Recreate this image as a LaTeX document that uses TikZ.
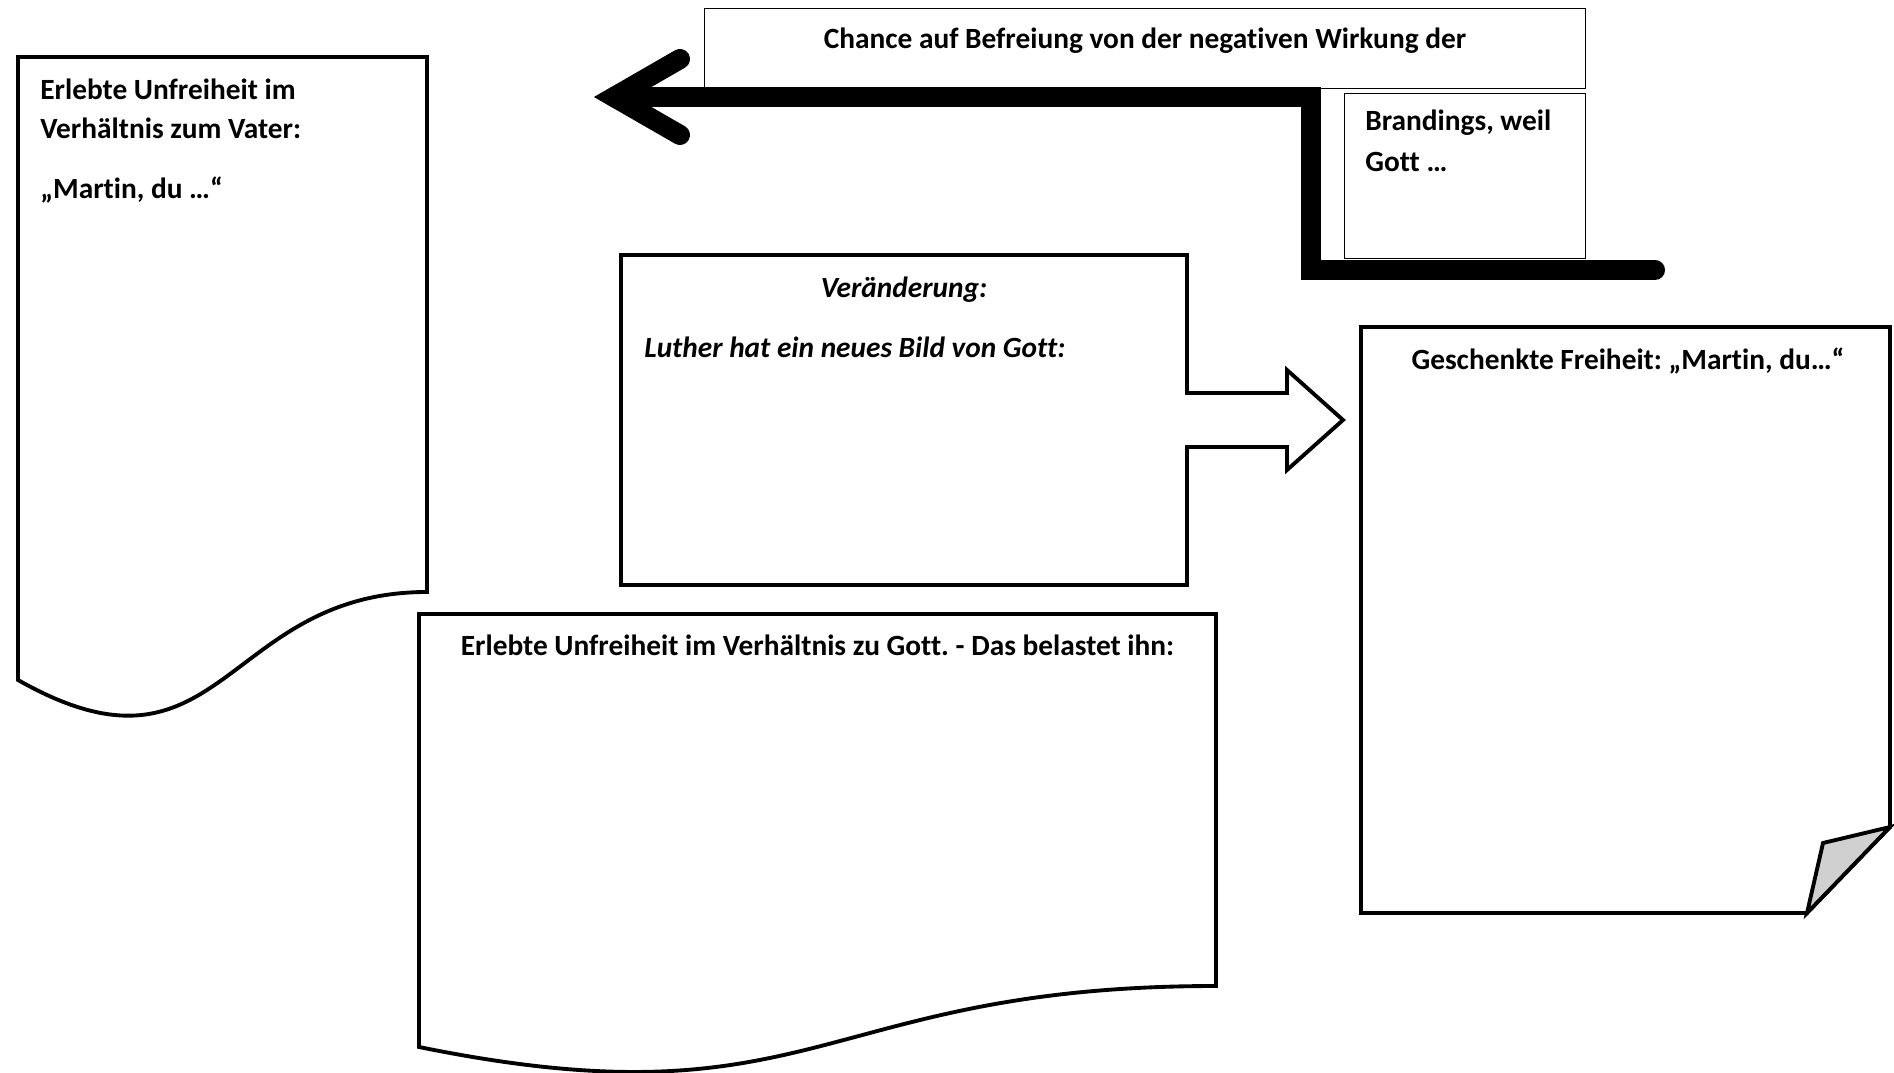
\documentclass[tikz,border=0pt]{standalone}
\usepackage{fontspec}
\setmainfont{Carlito}[Ligatures=CommonOff]
\frenchspacing
\usepackage{tikz}
\usetikzlibrary{positioning}
\definecolor{flapgray}{HTML}{D0D0D0}
\tikzset{
  thinbox/.style={draw=black,line width=0.6pt,fill=white,inner sep=0pt},
  thickline/.style={draw=black,line width=2.2pt,line join=miter,fill=white},
  bigarr/.style={draw=black,line width=11.4pt,line cap=round,line join=miter},
  lbl/.style={font=\bfseries\fontsize{16.7}{22}\selectfont,inner sep=0pt},
  lblit/.style={font=\bfseries\itshape\fontsize{16.7}{22}\selectfont,inner sep=0pt}
}

\begin{document}
\begin{tikzpicture}
  \useasboundingbox (0,0) rectangle (37.88,-21.46);
  % top boxes
  \node[thinbox,minimum width=17.62cm,minimum height=1.60cm,anchor=north west] (chance) at (14.08,-0.16) {};
  \node[thinbox,minimum width=4.82cm,minimum height=3.30cm,anchor=north west] (brand) at (26.88,-1.86) {};
  \node[lbl,anchor=base] (chancetxt) at (22.90,-0.97) {Chance auf Befreiung von der negativen Wirkung der};
  \node[lbl,anchor=base west,text width=4.2cm,align=flush left,font=\bfseries\fontsize{16.7}{22.8}\selectfont] (brandtxt) at (27.30,-2.62) {Brandings, weil\\Gott …};
  % bent arrow
  \coordinate (tip) at (12.28,-1.94);
  \coordinate (armup) at (13.60,-1.18);
  \coordinate (armdown) at (13.60,-2.70);
  \coordinate (bend) at (26.22,-1.94);
  \coordinate (knee) at (26.22,-5.40);
  \coordinate (tail) at (33.10,-5.40);
  \draw[bigarr] (tail) -- (knee) -- (bend) -- (tip);
  \draw[bigarr] (armup) -- (tip) -- (armdown);
  % father document
  \draw[thickline] (0.36,-1.14) -- (8.54,-1.14) -- (8.54,-11.84)
    .. controls (4.45,-11.84) and (4.45,-15.92) .. (0.36,-13.60) -- cycle;
  \node[lbl,anchor=base west,text width=7.6cm,align=flush left,font=\bfseries\fontsize{16.7}{22}\selectfont] (vater) at (0.80,-2.00)
    {Erlebte Unfreiheit im\\Verhältnis zum Vater:\\[12.3pt]„Martin, du …“};
  % change box with arrow
  \draw[thickline] (12.42,-5.10) -- (23.74,-5.10) -- (23.74,-7.86) -- (25.74,-7.86) -- (25.74,-7.40)
    -- (26.86,-8.40) -- (25.74,-9.40) -- (25.74,-8.94) -- (23.74,-8.94) -- (23.74,-11.70)
    -- (12.42,-11.70) -- cycle;
  \node[lblit,anchor=base] (wechsel) at (18.08,-5.96) {Veränderung:};
  \node[lblit,anchor=base west] (bild) at (12.88,-7.15) {Luther hat ein neues Bild von Gott:};
  % gift page
  \draw[thickline] (27.22,-6.54) -- (37.80,-6.54) -- (37.80,-16.54) -- (36.14,-18.26) -- (27.22,-18.26) -- cycle;
  \draw[thickline,fill=flapgray] (36.14,-18.26) -- (36.46,-16.86) -- (37.80,-16.54) -- cycle;
  \node[lbl,anchor=base] (frei) at (32.56,-7.39) {Geschenkte Freiheit: „Martin, du…“};
  % god document
  \draw[thickline] (8.38,-12.28) -- (24.32,-12.28) -- (24.32,-19.72)
    .. controls (16.35,-19.72) and (16.35,-22.56) .. (8.38,-20.94) -- cycle;
  \node[lbl,anchor=base] (gott) at (16.35,-13.10) {Erlebte Unfreiheit im Verhältnis zu Gott. - Das belastet ihn:};
\end{tikzpicture}
\end{document}
